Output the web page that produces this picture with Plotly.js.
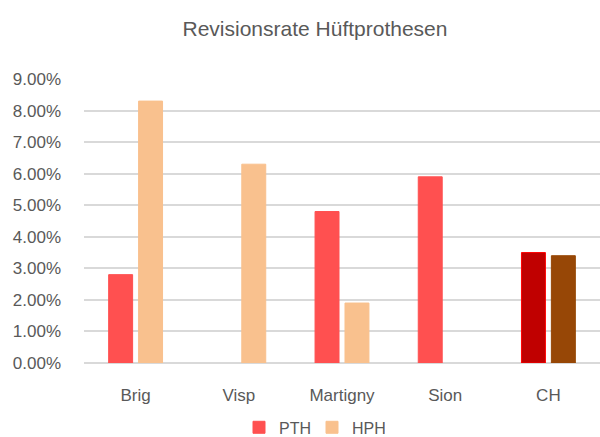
<!DOCTYPE html>
<html>
<head>
<meta charset="utf-8">
<script src="https://cdn.plot.ly/plotly-3.0.1.min.js"></script>
<style>
  html, body { margin: 0; padding: 0; background: #fff; }
  #chart { width: 600px; height: 437px; }
</style>
</head>
<body>
<div id="chart"></div>
<script>
// Revisionsrate je Spital
var spitaeler = ['Brig', 'Visp', 'Martigny', 'Sion', 'CH'];
var pth = [0.028, null, 0.048, 0.059, 0.035];
var hph = [0.083, 0.063, 0.019, null, 0.034];
// CH wird in eigenen Farben gezeigt
var pthFarben = ['#FF5050', '#FF5050', '#FF5050', '#FF5050', '#C00000'];
var hphFarben = ['#F9C18E', '#F9C18E', '#F9C18E', '#F9C18E', '#974706'];
var pthRand = ['#FF5050', '#FF5050', '#FF5050', '#FF5050', '#FF0000'];

var data = [
  {
    type: 'bar', name: 'PTH', x: spitaeler, y: pth,
    marker: { color: pthFarben, line: { color: pthRand, width: 1 } },
    hovertemplate: '%{x}: %{y:.2%}<extra>PTH</extra>'
  },
  {
    type: 'bar', name: 'HPH', x: spitaeler, y: hph,
    marker: { color: hphFarben, line: { color: hphFarben, width: 1 } },
    hovertemplate: '%{x}: %{y:.2%}<extra>HPH</extra>'
  }
];

var grau = '#595959';
var layout = {
  width: 600, height: 437,
  margin: { l: 84, r: 0, t: 79, b: 74 },
  paper_bgcolor: '#fff', plot_bgcolor: '#fff',
  font: { family: 'Liberation Sans, Arial, sans-serif', color: grau, size: 18 },
  title: {
    text: 'Revisionsrate Hüftprothesen',
    font: { size: 21, color: grau },
    x: 0.525, xref: 'container', xanchor: 'center',
    y: 0.935, yref: 'container', yanchor: 'middle'
  },
  barmode: 'group',
  bargap: 0.42,
  bargroupgap: 0.2,
  xaxis: {
    showgrid: false, showline: false, zeroline: false,
    ticks: '', ticklabelstandoff: 20,
    tickfont: { size: 17, color: grau }
  },
  yaxis: {
    range: [0, 0.09], dtick: 0.01, tickformat: '.2%',
    showgrid: true, gridcolor: '#d9d9d9', gridwidth: 2,
    zeroline: true, zerolinecolor: '#d9d9d9', zerolinewidth: 2,
    showline: false, ticks: '', ticklabelstandoff: 22,
    tickfont: { size: 17, color: grau }
  },
  showlegend: true,
  legend: {
    orientation: 'h',
    x: 0.52, xref: 'container', xanchor: 'center',
    y: 0.022, yref: 'container', yanchor: 'middle',
    font: { size: 16, color: grau },
    entrywidth: 28, entrywidthmode: 'pixels'
  }
};

Plotly.newPlot('chart', data, layout, { displayModeBar: false, staticPlot: true });
</script>
</body>
</html>
